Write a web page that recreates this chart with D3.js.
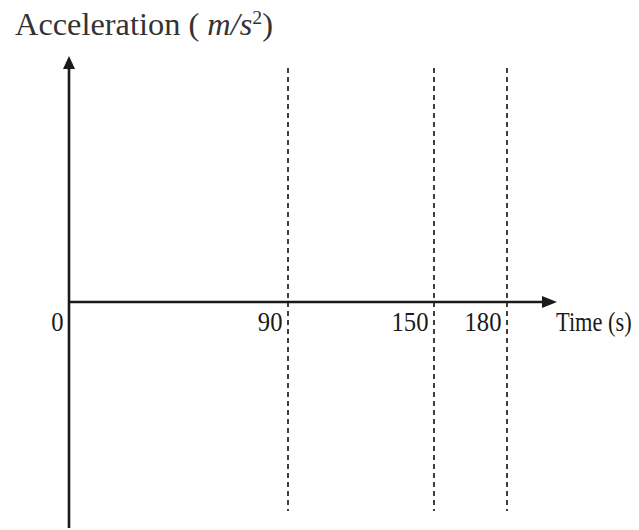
<!DOCTYPE html>
<html>
<head>
<meta charset="utf-8">
<script src="https://cdn.jsdelivr.net/npm/d3@7"></script>
<style>
  html, body { margin: 0; padding: 0; background: #fff; }
  svg { display: block; }
</style>
</head>
<body>
<svg id="chart" width="639" height="530"></svg>
<script>
// Time instants (s) where the motion changes phase
const markTimes = [90, 150, 180];
// Tick labels shown under the time axis
const tickValues = [0, 90, 150, 180];
const xDomain = [0, 180];
const yLabel = ["Acceleration ( ", "m/s", "2", ")"];
const xLabel = "Time (s)";

const W = 639, H = 530;
const axisY = 302;          // vertical position of the time axis
const yTop = 56, yBottom = 528;
const xEnd = 557;           // tip of the time-axis arrow
const ink = "#1a1a1a";
const serif = "'Liberation Serif', 'Times New Roman', serif";

const svg = d3.select("#chart");
svg.append("rect").attr("width", W).attr("height", H).attr("fill", "#fff");

const x = d3.scaleLinear().domain(xDomain).range([69, 507]);

// Narrow a text run horizontally so the serif face sits a little condensed
function condense(sel, k) {
  sel.each(function () {
    const len = this.getComputedTextLength();
    d3.select(this).attr("textLength", len * k).attr("lengthAdjust", "spacingAndGlyphs");
  });
}

// Dashed guides at each phase boundary
svg.append("g").selectAll("line")
  .data(markTimes)
  .join("line")
  .attr("x1", d => x(d)).attr("x2", d => x(d))
  .attr("y1", 68).attr("y2", 511)
  .attr("stroke", "#2a2a2a")
  .attr("stroke-width", 1.8)
  .attr("stroke-dasharray", "5,4");

// Axes with arrowheads
const x0 = x(0);
svg.append("line")
  .attr("x1", x0).attr("x2", xEnd - 10)
  .attr("y1", axisY).attr("y2", axisY)
  .attr("stroke", ink).attr("stroke-width", 2.4);
svg.append("path")
  .attr("d", `M${xEnd},${axisY} L${xEnd - 15},${axisY - 6} L${xEnd - 15},${axisY + 6} Z`)
  .attr("fill", ink);

svg.append("line")
  .attr("x1", x0).attr("x2", x0)
  .attr("y1", yBottom).attr("y2", yTop + 10)
  .attr("stroke", ink).attr("stroke-width", 2.6);
svg.append("path")
  .attr("d", `M${x0},${yTop} L${x0 - 6},${yTop + 13} L${x0 + 6},${yTop + 13} Z`)
  .attr("fill", ink);

// Tick labels via the D3 axis generator, right-aligned just left of each mark
const axis = d3.axisBottom(x).tickValues(tickValues).tickSize(0).tickFormat(d3.format("d"));
const gx = svg.append("g").attr("transform", `translate(0,${axisY})`).call(axis);
gx.select(".domain").remove();
gx.selectAll("text")
  .attr("font-family", serif)
  .attr("font-size", 28)
  .attr("fill", ink)
  .attr("text-anchor", "end")
  .attr("x", -6)
  .attr("dy", 0)
  .attr("y", 29)
  .call(condense, 0.88);

// Axis titles; the time label is narrowed with a horizontal scale
svg.append("text")
  .attr("transform", `translate(556,331) scale(0.8,1)`)
  .attr("font-family", serif)
  .attr("font-size", 28)
  .attr("fill", ink)
  .text(xLabel);

const t = svg.append("text")
  .attr("x", 15).attr("y", 35)
  .attr("font-family", serif)
  .attr("font-size", 31)
  .attr("fill", "#333");
t.append("tspan").text(yLabel[0]);
t.append("tspan").attr("font-style", "italic").text(yLabel[1]);
t.append("tspan").attr("font-size", 19).attr("dy", -11).text(yLabel[2]);
t.append("tspan").attr("dy", 11).text(yLabel[3]);
t.attr("textLength", 258).attr("lengthAdjust", "spacingAndGlyphs");
</script>
</body>
</html>
